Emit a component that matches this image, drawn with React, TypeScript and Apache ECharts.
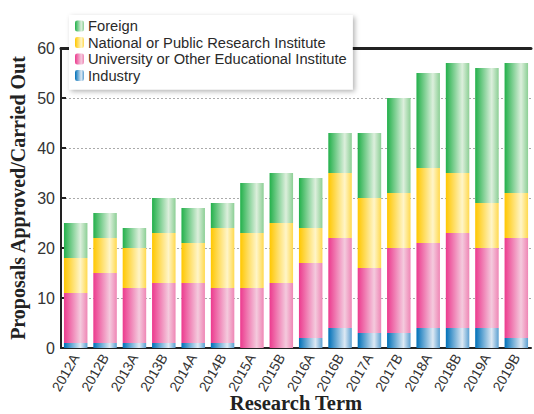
import React, { useEffect, useRef } from "react";
import * as echarts from "echarts";

const categories = ["2012A","2012B","2013A","2013B","2014A","2014B","2015A","2015B","2016A","2016B","2017A","2017B","2018A","2018B","2019A","2019B"];
const industry = [1,1,1,1,1,1,0,0,2,4,3,3,4,4,4,2];
const university = [10,14,11,12,12,11,12,13,15,18,13,17,17,19,16,20];
const national = [7,7,8,10,8,12,11,12,7,13,14,11,15,12,9,9];
const foreign = [7,5,4,7,7,5,10,10,10,8,13,19,19,22,27,26];
const yTicks = [0, 10, 20, 30, 40, 50, 60];

const grad = (a: string, b: string, c: string) =>
  new echarts.graphic.LinearGradient(0, 0, 1, 0, [
    { offset: 0, color: a },
    { offset: 0.7, color: b },
    { offset: 1, color: c },
  ]);

export default function App() {
  const ref = useRef<HTMLDivElement>(null);
  useEffect(() => {
    if (!ref.current) return;
    const chart = echarts.init(ref.current, undefined, { renderer: "svg" });
    const mk = (name: string, data: number[], color: any) => ({
      name,
      type: "bar",
      stack: "total",
      data,
      barCategoryGap: "20%",
      itemStyle: { color },
    });
    chart.setOption({
      animation: false,
      backgroundColor: "#fff",
      grid: { left: 61, right: 3, top: 48, bottom: 66, containLabel: false, outerBoundsMode: "none" },
      legend: {
        orient: "vertical",
        left: 69,
        top: 15,
        data: ["Foreign", "National or Public Research Institute", "University or Other Educational Institute", "Industry"],
        itemWidth: 9,
        itemHeight: 11,
        itemGap: 0.5,
        padding: [3, 6, 6, 6],
        backgroundColor: "#fff",
        shadowBlur: 5,
        shadowOffsetX: 2,
        shadowOffsetY: 2,
        shadowColor: "rgba(0,0,0,0.3)",
        textStyle: { fontFamily: "Liberation Sans, Arial", fontSize: 14.7, color: "#2a2a2a", lineHeight: 16, padding: [0, 0, 0, -1] },
        z: 10,
      },
      xAxis: [
        {
          type: "category",
          data: categories,
          name: "Research Term",
          nameLocation: "middle",
          nameGap: 45,
          nameMoveOverlap: false,
          nameTextStyle: { fontFamily: "Liberation Serif, Times New Roman", fontWeight: "bold", fontSize: 20.5, color: "#222", lineHeight: 20 },
          axisLine: { lineStyle: { color: "#222", width: 2 } },
          axisTick: { inside: true, length: 3, lineStyle: { color: "#222", width: 2 } },
          axisLabel: { rotate: 60, fontFamily: "Liberation Sans, Arial", fontSize: 14, color: "#333", margin: 7 },
        },
        {
          type: "category",
          data: categories,
          position: "top",
          axisLine: { show: true, lineStyle: { color: "#222", width: 3 } },
          axisTick: { show: false },
          axisLabel: { show: false },
        },
      ],
      yAxis: {
        type: "value",
        min: 0,
        max: 60,
        interval: 10,
        name: "Proposals Approved/Carried Out",
        nameLocation: "middle",
        nameGap: 33,
        nameMoveOverlap: false,
        nameTextStyle: { fontFamily: "Liberation Serif, Times New Roman", fontWeight: "bold", fontSize: 20, color: "#222" },
        axisLine: { show: true, lineStyle: { color: "#222", width: 2 } },
        axisTick: { show: true, inside: true, length: 5, lineStyle: { color: "#222", width: 2 } },
        axisLabel: {
          fontFamily: "Liberation Sans, Arial",
          fontSize: 16,
          color: "#333",
          margin: 6,
          formatter: (v: number) => (yTicks.includes(v) ? String(v) : ""),
        },
        splitLine: { show: true, lineStyle: { color: "#aaa", type: [2, 2], width: 1 } },
      },
      series: [
        mk("Industry", industry, grad("#0070b8", "#dde9f4", "#5b9fd0")),
        mk("University or Other Educational Institute", university, grad("#ec3a8e", "#f4cadd", "#ef86b5")),
        mk("National or Public Research Institute", national, grad("#ffc700", "#fff5c8", "#ffd94e")),
        mk("Foreign", foreign, grad("#22b04a", "#dcefdc", "#8ccf95")),
      ],
    });
    return () => chart.dispose();
  }, []);
  return <div ref={ref} style={{ width: 534, height: 414, position: "absolute", left: 0, top: 0 }} />;
}
